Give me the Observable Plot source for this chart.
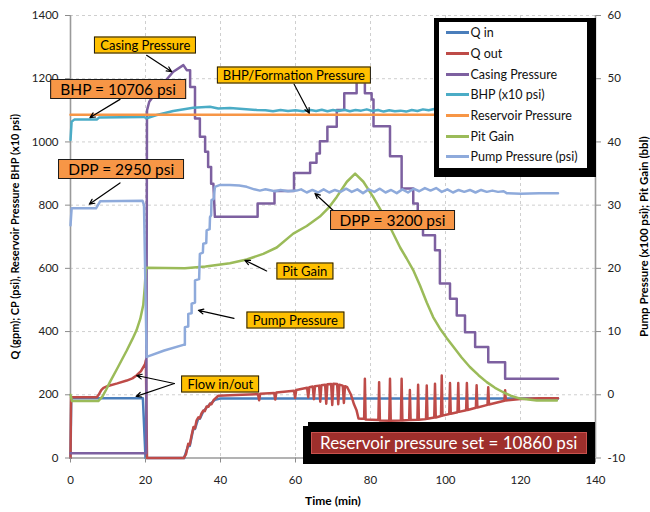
<!DOCTYPE html>
<html>
<head>
<meta charset="utf-8">
<script src="https://cdn.jsdelivr.net/npm/d3@7"></script>
<script src="https://cdn.jsdelivr.net/npm/@observablehq/plot@0.6"></script>
<style>
  html, body { margin: 0; padding: 0; background: #fff; }
  #chart { position: relative; width: 650px; height: 512px; font-family: Lato, sans-serif; }
  #chart svg { display: block; }
  .callout { position: absolute; transform: translate(-50%, -50%); border: 1px solid #1a1a1a;
             white-space: nowrap; color: #000; font-family: Lato, sans-serif; }
  .note  { background: #ffc000; font-size: 13px; line-height: 15px; padding: 0 5px; }
  .value { background: #f79646; font-size: 15.5px; line-height: 18px; padding: 0 9px; }
  .legend { position: absolute; background: #fff; border-style: solid; border-color: #000;
            border-width: 4.4px 9.3px 9px 5px; width: 147.7px; height: 145.6px; box-sizing: content-box; }
  .legend .row { height: 20.7px; display: flex; align-items: center; font-size: 12.5px; color: #111; }
  .legend .sw { display: inline-block; width: 23px; height: 3px; margin-left: 7px; margin-right: 1.5px; }
  .banner { position: absolute; }
  .banner .blk { position: absolute; background: #000; }
  .banner .msg { position: absolute; background: #9e2f2c; border: 1px solid #c9524e; color: #fff;
                 font-size: 17px; line-height: 20px; text-align: center; box-sizing: border-box; white-space: nowrap; }
</style>
</head>
<body>
<div id="chart"></div>
<script>
// Axis ticks
const xTicks = [0, 20, 40, 60, 80, 100, 120, 140];
const yTicks = [0, 200, 400, 600, 800, 1000, 1200, 1400];

// Series names and colours (legend order = drawing order)
const seriesNames = ["Q in", "Q out", "Casing Pressure", "BHP (x10 psi)", "Reservoir Pressure", "Pit Gain", "Pump Pressure (psi)"];
const seriesColors = ["#4a7ebb", "#be4b48", "#7d60a0", "#4bacc6", "#f79646", "#9bbb59", "#8eaadb"];

// Flow in (gpm) vs time (min)
const qIn = [[0,0],[0.2,189],[19.3,189],[20,0],[30.3,0],[31.4,40],[31.8,38],[32.8,95],[33.2,92],[34.1,126],[34.5,124],
  [35.4,147],[36.3,160],[37.2,170],[38.5,184],[39.9,188],[130,188]];

// Flow out (gpm) vs time (min)
const qOut = [[0,0],[0.15,192],[7,192],[7.5,200],[8.2,215],[8.8,222],[10,228],[12.5,236],[15,245],[16.5,252],[17.6,261],
  [18.8,275],[19.9,298],[20.1,309],[20.4,0],[30.2,0],
  [30.8,12],[31.4,45],[31.8,42],[32.3,72],[32.8,98],[33.2,94],[33.6,118],[34.1,129],[34.5,126],[34.9,140],[35.4,150],
  [35.8,148],[36.3,163],[36.8,162],[37.2,172],[37.6,170],[38.1,182],[38.5,187],[39.4,197],
  [44,199],[50,202],[50.3,183],[50.6,203],[54.3,206],[54.6,185],[54.9,207],[59.6,213],[59.9,190],[60.2,215],
  [63.1,222],[63.4,192],[63.7,224],[64.6,226],[64.9,186],[65.2,227],[66.3,229],[66.6,178],[66.9,230],[67.9,232],
  [68.2,172],[68.5,233],[69.5,234],[69.8,168],[70.1,235],[71.1,234],[71.4,170],[71.7,232],[72.6,229],[72.9,174],
  [73.2,227],[73.8,224],[74.8,200],[75.6,170],[76.3,150],[76.8,125],[77.6,124],
  [78.3,124],[78.5,251],[78.7,122],[82.1,120],[82.3,240],[82.5,119],[85,118],[85.2,251],[85.4,118],[88.1,119],
  [88.3,251],[88.5,119],[90.3,120],[90.5,215],[90.7,120],[92.5,121],[92.7,232],[92.9,121],[94.8,123],[95,229],
  [95.2,124],[97,128],[97.2,235],[97.4,128],[98.8,133],[99,261],[99.2,134],[101,139],[101.2,237],[101.4,140],
  [103.2,145],[103.4,237],[103.6,146],[105.5,151],[105.7,237],[105.9,152],[108.1,159],[108.3,230],[108.5,160],
  [111.2,168],[111.4,224],[111.6,169],[115.7,181],[115.9,214],[116.1,182],[120,187],[125,189],[130,189]];

// Casing pressure (psi) vs time (min)
const casingPressure = [[0,15],[20.2,15],[20.4,1100],[21,1127],[24,1175],[27.4,1222],[30.1,1243],[31,1227],[31.9,1227],
  [31.9,1174],[33.2,1174],[33.2,1074],[34.5,1074],[34.5,1016],[35.9,1016],[35.9,969],[36.7,969],[36.7,921],[37.5,921],
  [37.5,868],[38.1,868],[38.5,763],[49.9,763],[49.9,805],[54.4,805],[54.4,845],[59.6,845],[59.6,902],[63.9,902],
  [63.9,934],[65.6,934],[65.6,963],[66.5,963],[66.5,1002],[68.5,1002],[68.5,1048],[71,1048],[71,1101],[73,1101],
  [73,1154],[76.3,1154],[76.3,1200],[78.5,1200],[78.5,1154],[80.3,1154],[80.3,1134],[80.8,1134],[80.8,1050],
  [85.2,1050],[85.2,955],[88.3,955],[88.3,853],[91.4,853],[91.4,805],[92.6,805],[92.6,760],[94,760],[94,705],
  [97.2,705],[97.2,657],[98.5,657],[98.5,552],[101.2,552],[101.2,504],[103,504],[103,451],[105.2,451],[105.2,398],
  [107.9,398],[107.9,351],[111.4,351],[111.4,303],[115.9,303],[115.9,251],[130,251]];

// Bottom-hole pressure (x10 psi) vs time (min)
const bhp = [[0,1006],[0.3,1064],[1,1070.6],[7,1070.6],[7.6,1077],[19.5,1079],[20.3,1075],[23,1085],[27.4,1098],
  [32.7,1108],[37.2,1111],[39.4,1106],[42.5,1107],[46,1104],[49.7,1101],[52,1100],[54,1097],[56,1101],[58,1098],
  [60,1100],[62,1097],[64,1101],[65.5,1098],[67,1102],[68.5,1097],[70,1101],[71.5,1098],[73,1102],[74.5,1097],
  [76,1101],[77.5,1099],[79,1103],[80.5,1098],[82,1101],[83.5,1096],[85,1100],[86.5,1097],[88,1099],[89.5,1096],
  [91,1101],[92.5,1098],[94,1103],[95.5,1100],[97,1104],[98.5,1101],[100,1105],[101.5,1102],[103,1106],[104.5,1102],
  [106,1105],[108,1103],[110,1106],[112,1103],[114,1106],[116,1104],[118,1106],[120,1104],[122,1106],[124,1105],
  [126,1106],[128,1105],[130,1106]];

// Reservoir pressure (x10 psi), held constant
const reservoirPressure = [[0,1086],[130,1086]];

// Pit gain (bbl, right axis) vs time (min)
const pitGain = [[0,0],[0.4,-1],[7.4,-1],[8.5,-0.3],[9.5,0.8],[10.5,2],[12.5,4.2],[15,7],[16.5,8.8],[17.6,10.2],
  [18.6,12],[19.4,14.2],[19.8,17],[20.1,20.1],[30.5,20],[36,20.3],[42.5,20.8],[47,21.4],[51.4,22.3],[55,23.3],
  [59.4,25.5],[63,26.7],[66.5,28.2],[69,29.7],[71,31.3],[73.7,33.7],[75.9,35],[78.1,33.7],[80.7,31.3],[84.3,27.6],
  [87.9,23.3],[89.6,21.6],[91.5,19.6],[93.2,17.3],[95,14.6],[96.7,12.3],[98.5,10.5],[100.3,9],[102.1,7.6],
  [104.3,5.9],[106.5,4.4],[108.8,3.1],[111,2],[113.2,1.1],[115.4,0.4],[117.6,-0.2],[119.9,-0.6],[124.3,-0.9],[129.7,-0.9]];

// Pump pressure (x100 psi, right axis) vs time (min)
const pumpPressure = [[0,26.8],[0.3,29.5],[6.8,29.5],[7.9,30.6],[19.2,30.7],[19.6,30],[20.3,6],[25,7],[30.1,7.9],
  [30.5,7.9],[30.5,10.7],[31.4,10.8],[31.4,12.8],[32.3,12.9],[32.3,14.4],[33.2,14.6],[33.2,18.1],[34.3,18.3],
  [34.5,22.3],[35.3,22.5],[35.4,23.9],[36.2,24],[36.3,26],[37.1,26.2],[37.2,28.1],[37.5,28.4],[37.6,30.8],[38.2,31],
  [38.5,32.9],[39.9,33.2],[42.5,33.2],[45,33.1],[47,32.9],[49,32.5],[50.5,32.3],[52,32.5],[54.5,32.2],[56,32.4],
  [58,32.2],[60.3,32.3],[61.5,32.5],[63,32.0],[64.5,32.4],[66,32.0],[67.5,32.5],[69,32.0],[70.5,32.4],[72,32.1],
  [73.5,32.6],[75,32.1],[76.5,32.5],[78,31.9],[79.5,32.5],[81,32.1],[82.5,32.6],[84,32.0],[85.5,32.4],[87,31.9],
  [88.5,32.5],[90,32.0],[91.5,32.6],[93,32.2],[94.5,32.7],[96,32.3],[97.5,32.7],[99,32.1],[100.5,32.5],[102,32.0],
  [103.5,32.4],[105,32.1],[106.5,32.4],[108,32.0],[109.5,32.4],[111,32.1],[112.5,32.3],[114,32.1],[115.5,32.2],
  [116.3,31.9],[120,31.8],[125,31.9],[130,31.9]];

// Right axis (-10..60) shares the frame with the left axis (0..1400)
const toLeft = r => (r + 10) * 20;
const fromLeft = v => v / 20 - 10;

// Callouts: box centre, arrow origin and arrow targets in (min, left-axis units)
const callouts = [
  {text: "Casing Pressure", kind: "note", box: [20.1, 1305.6], from: [20.3, 1274], to: [[27.0, 1222]]},
  {text: "BHP = 10706 psi", kind: "value", box: [12.85, 1165], from: [13.2, 1134.6], to: [[5.2, 1077]]},
  {text: "DPP = 2950 psi", kind: "value", box: [13.65, 911.6], from: [13.2, 870.4], to: [[5.0, 803]]},
  {text: "BHP/Formation Pressure", kind: "note", box: [59.7, 1210.6], from: [59.6, 1183], to: [[63.7, 1091]]},
  {text: "DPP = 3200 psi", kind: "value", box: [86, 752], from: [70.5, 778.5], to: [[65.2, 837]]},
  {text: "Pit Gain", kind: "note", box: [62.6, 589.8], from: [52.3, 591.7], to: [[46.5, 625.6]]},
  {text: "Pump Pressure", kind: "note", box: [60.1, 436.5], from: [43.6, 441.8], to: [[34.1, 467]]},
  {text: "Flow in/out", kind: "note", box: [40.1, 231], from: [27.7, 235.6], to: [[17.65, 261], [17.5, 195]]}
];
const arrows = callouts.flatMap(c => c.to.map(t => ({x1: c.from[0], y1: c.from[1], x2: t[0], y2: t[1]})));

const line = (data, i, conv = d => d) =>
  Plot.line(data, {x: d => d[0], y: d => conv(d[1]), stroke: seriesColors[i], strokeWidth: 2.5, strokeLinejoin: "round"});

const chart = Plot.plot({
  width: 650,
  height: 512,
  marginLeft: 70,
  marginRight: 55,
  marginTop: 15,
  marginBottom: 54.5,
  style: {fontFamily: "Lato, sans-serif", fontSize: "11.5px", background: "#fff", color: "#222"},
  x: {domain: [0, 140], label: null},
  y: {domain: [0, 1400], label: null},
  marks: [
    Plot.ruleX(xTicks.filter(d => d > 0 && d < 140), {stroke: "#cfcfcf", strokeDasharray: "3,3"}),
    Plot.ruleY(yTicks.filter(d => d > 0), {stroke: "#cfcfcf", strokeDasharray: "3,3"}),
    Plot.ruleX([0, 140], {stroke: "#9a9a9a", strokeWidth: 1.6}),
    Plot.ruleY([0], {stroke: "#9a9a9a", strokeWidth: 1.6}),
    line(qIn, 0),
    line(qOut, 1),
    line(casingPressure, 2),
    line(bhp, 3),
    line(reservoirPressure, 4),
    line(pitGain, 5, toLeft),
    line(pumpPressure, 6, toLeft),
    Plot.arrow(arrows, {x1: "x1", y1: "y1", x2: "x2", y2: "y2", stroke: "#000", strokeWidth: 1.2, headLength: 7, headAngle: 50}),
    Plot.axisX({ticks: xTicks, tickSize: 5, tickPadding: 13, label: null, stroke: "#8c8c8c", fill: "#222",
                tickFormat: d => `${d}`}),
    Plot.axisY({anchor: "left", ticks: yTicks, tickSize: 5, tickPadding: 7, label: null, stroke: "#8c8c8c", fill: "#222",
                tickFormat: d => `${d}`}),
    Plot.axisY({anchor: "right", ticks: yTicks, tickSize: 5, tickPadding: 7, label: null, stroke: "#8c8c8c", fill: "#222",
                tickFormat: d => `${fromLeft(d)}`}),
    Plot.text(["Q (gpm); CP (psi), Reservoir Pressure BHP (x10 psi)"],
              {frameAnchor: "left", textAnchor: "middle", dx: -55, rotate: -90, fontWeight: "bold", fontSize: 11, fill: "#000"}),
    Plot.text(["Pump Pressure (x100 psi); Pit Gain (bbl)"],
              {frameAnchor: "right", textAnchor: "middle", dx: 49, rotate: -90, fontWeight: "bold", fontSize: 11.5, fill: "#000"}),
    Plot.text(["Time (min)"], {frameAnchor: "bottom", textAnchor: "middle", dy: 46.5, fontWeight: "bold", fontSize: 12, fill: "#000"})
  ]
});

const wrap = document.getElementById("chart");
wrap.append(chart);
const sx = chart.scale("x"), sy = chart.scale("y");
const px = t => sx.apply(t), py = v => sy.apply(v);

// Callout boxes
for (const c of callouts) {
  const el = document.createElement("div");
  el.className = "callout " + c.kind;
  el.textContent = c.text;
  el.style.left = px(c.box[0]) + "px";
  el.style.top = py(c.box[1]) + "px";
  wrap.append(el);
}

// Legend
const legend = document.createElement("div");
legend.className = "legend";
legend.style.left = (px(140) - 161) + "px";
legend.style.top = (py(1400) + 3.3) + "px";
seriesNames.forEach((name, i) => {
  const row = document.createElement("div");
  row.className = "row";
  const sw = document.createElement("span");
  sw.className = "sw";
  sw.style.background = seriesColors[i];
  const label = document.createElement("span");
  label.textContent = name;
  row.append(sw, label);
  legend.append(row);
});
wrap.append(legend);

// Reservoir pressure banner (value in psi)
const banner = document.createElement("div");
banner.className = "banner";
const bx0 = px(140) - 292, by0 = py(0) - 35.5;
banner.style.left = bx0 + "px";
banner.style.top = by0 + "px";
banner.innerHTML =
  `<div class="blk" style="left:5px;top:0;width:287px;height:41.6px"></div>` +
  `<div class="blk" style="left:0;top:4.3px;width:292px;height:37.3px"></div>` +
  `<div class="msg" style="left:7.7px;top:9.7px;width:276px;height:22.3px">Reservoir pressure set = ${reservoirPressure[0][1] * 10} psi</div>`;
wrap.append(banner);
</script>
</body>
</html>
